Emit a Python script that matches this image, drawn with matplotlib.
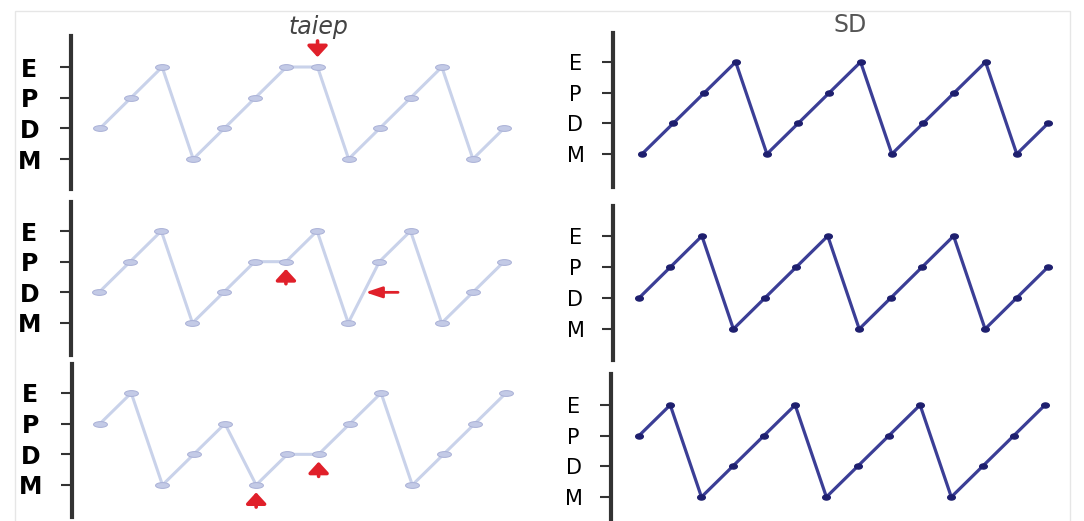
import matplotlib
matplotlib.use("Agg")
import matplotlib.pyplot as plt
from matplotlib.path import Path
from matplotlib.transforms import Affine2D
from matplotlib.patches import Rectangle

# sleep stage codes: M=0, D=1, P=2, E=3
stage_labels = ['M', 'D', 'P', 'E']

taiep_1 = [1, 2, 3, 0, 1, 2, 3, 3, 0, 1, 2, 3, 0, 1]
taiep_2 = [1, 2, 3, 0, 1, 2, 2, 3, 0, 2, 3, 0, 1, 2]
taiep_3 = [2, 3, 0, 1, 2, 0, 1, 1, 2, 3, 0, 1, 2, 3]

sd_1 = [0, 1, 2, 3, 0, 1, 2, 3, 0, 1, 2, 3, 0, 1]
sd_2 = [1, 2, 3, 0, 1, 2, 3, 0, 1, 2, 3, 0, 1, 2]
sd_3 = [2, 3, 0, 1, 2, 3, 0, 1, 2, 3, 0, 1, 2, 3]

# red arrows on the taiep rows: (row, point index, stage level, direction)
arrow_marks = [(0, 7, 3, 'down'), (1, 6, 2, 'up'), (1, 9, 1, 'left'),
               (2, 5, 0, 'up'), (2, 7, 1, 'up')]

W, H = 1084, 521
fig = plt.figure(figsize=(W / 100, H / 100), dpi=100)
fig.patch.set_facecolor('white')

# faint frame round the picture
fig.patches.append(Rectangle((15 / W, -0.05), 1055 / W, 1.05 - 11 / H,
                             transform=fig.transFigure, fill=False,
                             edgecolor='#e6e6e6', lw=1.0))

# panel layout in pixels: spine x, spine top, spine bottom, y of E, y of M, first x, last x
layout = {
    'L1': (71, 36, 189, 67, 159, 100, 504),
    'L2': (71, 202, 355, 231, 323, 99, 504),
    'L3': (72, 364, 517, 393, 485, 100, 506),
    'R1': (613, 33, 187, 62, 154, 642, 1048),
    'R2': (613, 206, 360, 236, 329, 639, 1048),
    'R3': (611, 374, 535, 405, 497, 639, 1045),
}

ellipse = Path.unit_circle().transformed(Affine2D().scale(2.4, 1.0))
dot = Path.unit_circle().transformed(Affine2D().scale(1.5, 1.0))


def make_axes(key, n, bold, pad):
    sx, top, bot, ey, my, fx, lx = layout[key]
    right = lx + 25
    ax = fig.add_axes([sx / W, 1 - bot / H, (right - sx) / W, (bot - top) / H])
    uy = (my - ey) / 3.0
    ax.set_ylim(-(bot - my) / uy, 3 + (ey - top) / uy)
    ux = (lx - fx) / (n - 1)
    ax.set_xlim(-(fx - sx) / ux, (n - 1) + (right - lx) / ux)
    for s in ['top', 'right', 'bottom']:
        ax.spines[s].set_visible(False)
    ax.spines['left'].set_linewidth(3.0)
    ax.spines['left'].set_color('#333333')
    ax.set_xticks([])
    ax.set_yticks(range(4))
    ax.set_yticklabels(stage_labels, family='DejaVu Sans',
                       fontweight='bold' if bold else 'normal',
                       fontsize=17 if bold else 15, ha='center')
    ax.tick_params(axis='y', length=8, width=1.5, color='#333333', pad=pad)
    ax.patch.set_alpha(0)
    return ax


taiep_rows = [taiep_1, taiep_2, taiep_3]
sd_rows = [sd_1, sd_2, sd_3]
left_axes = []

for r, vals in enumerate(taiep_rows):
    ax = make_axes('L%d' % (r + 1), len(vals), True, 22)
    ax.plot(range(len(vals)), vals, color='#c9d2ea', lw=2.2,
            marker=ellipse, markersize=10, markerfacecolor='#c3cae6',
            markeredgecolor='#a9b0d6', markeredgewidth=0.7, clip_on=False)
    left_axes.append(ax)

for r, vals in enumerate(sd_rows):
    ax = make_axes('R%d' % (r + 1), len(vals), False, 19)
    ax.plot(range(len(vals)), vals, color='#3b3e96', lw=2.3,
            marker=dot, markersize=5.5, markerfacecolor='#1e1f6e',
            markeredgecolor='#1e1f6e', clip_on=False)

# arrow ends relative to the marked point, in data units: (tail dx, dy), (tip dx, dy)
arrow_ends = {'down': ((0, 0.85), (0, 0.32)),
              'up': ((0, -0.72), (0, -0.24)),
              'left': ((0.6, 0), (-0.45, 0))}
for row, idx, lvl, d in arrow_marks:
    ax = left_axes[row]
    (tx, ty), (hx, hy) = arrow_ends[d]
    head = 'head_width=0.55,head_length=0.6' if d != 'left' else 'head_width=0.3,head_length=0.9'
    ax.annotate('', xy=(idx + hx, lvl + hy), xytext=(idx + tx, lvl + ty),
                arrowprops=dict(arrowstyle='-|>,' + head,
                                color='#e0202a', lw=2.6 if d != 'left' else 2.0,
                                shrinkA=0, shrinkB=0, mutation_scale=11))

fig.text(318 / W, 1 - 27 / H, 'taiep', style='italic', fontsize=17,
         color='#444444', ha='center', va='center', family='DejaVu Sans')
fig.text(850 / W, 1 - 25 / H, 'SD', fontsize=17, color='#555555',
         ha='center', va='center', family='DejaVu Sans')

fig.savefig('out.png', dpi=100)
